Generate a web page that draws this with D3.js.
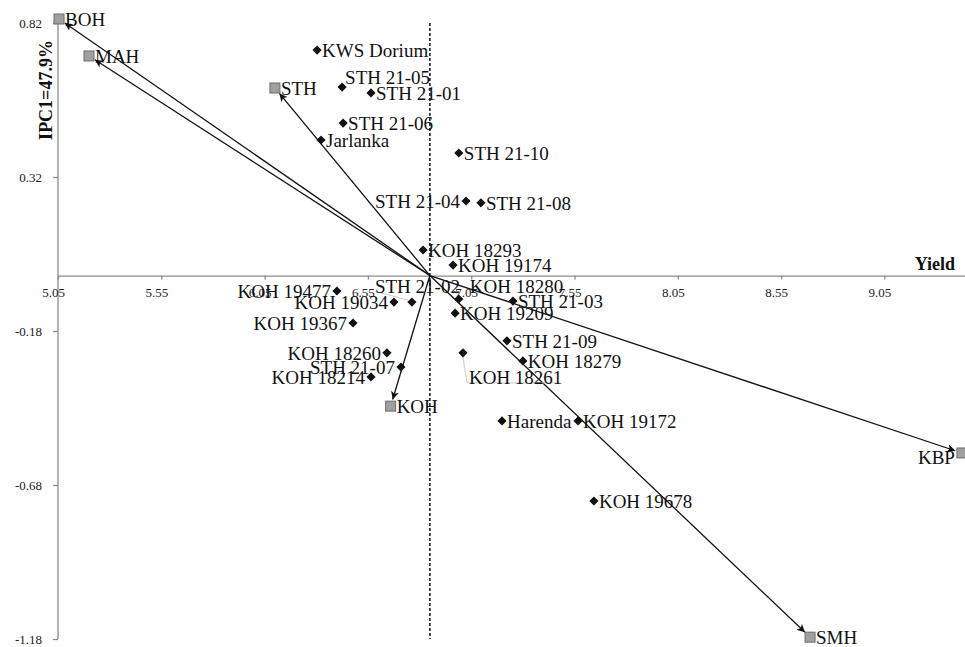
<!DOCTYPE html>
<html lang="en">
<head>
<meta charset="UTF-8">
<title>AMMI biplot - Yield vs IPC1</title>
<script src="https://d3js.org/d3.v7.min.js"></script>
<style>
    body { margin: 0; background: #fff; }
    svg { display: block; font-family: 'Liberation Serif', 'Times New Roman', serif; }
    .axis path, .axis line { stroke: #8c8c8c; stroke-width: 1.3px; }
    .axis text { font-size: 13px; fill: #222; font-family: 'Liberation Serif', serif; }
    .lbl { font-size: 19px; fill: #111; }
    .title { font-size: 18px; font-weight: bold; fill: #111; }
</style>
</head>
<body>
<svg id="chart" width="965" height="647"></svg>
<script>
// genotypes (diamonds)
var genotypes = ["KWS Dorium", "STH 21-05", "STH 21-01", "STH 21-06", "Jarlanka", "STH 21-10",
    "STH 21-04", "STH 21-08", "KOH 18293", "KOH 19174", "STH 21-02", "KOH 18280", "STH 21-03",
    "KOH 19209", "KOH 19477", "KOH 19034", "KOH 19367", "KOH 18260", "STH 21-07", "KOH 18214",
    "KOH 18261", "STH 21-09", "KOH 18279", "Harenda", "KOH 19172", "KOH 19678"];
var genYield = [6.304, 6.425, 6.565, 6.43, 6.323, 6.99, 7.025, 7.097, 6.817, 6.962, 6.763, 6.99, 7.252,
    6.972, 6.40, 6.676, 6.478, 6.642, 6.71, 6.565, 7.01, 7.223, 7.30, 7.199, 7.567, 7.644];
var genIPC1 = [0.732, 0.612, 0.593, 0.495, 0.44, 0.398, 0.242, 0.236, 0.083, 0.034, -0.086, -0.076, -0.083,
    -0.122, -0.05, -0.086, -0.154, -0.251, -0.297, -0.329, -0.251, -0.212, -0.277, -0.472, -0.472, -0.732];

// environments (grey squares, vectors from the origin)
var environments = ["BOH", "MAH", "STH", "KOH", "KBP", "SMH"];
var envYield = [5.055, 5.20, 6.10, 6.66, 9.425, 8.69];
var envIPC1 = [0.833, 0.713, 0.609, -0.424, -0.576, -1.174];

var grandMean = 6.85;
var xTicks = [5.05, 5.55, 6.05, 6.55, 7.05, 7.55, 8.05, 8.55, 9.05];
var yTicks = [0.82, 0.32, -0.18, -0.68, -1.18];

// label placement (pixels)
var place = {
    "STH 21-05": {anchor: "start", dx: 3, dy: -10},
    "STH 21-04": {anchor: "end", dx: -6, dy: 0},
    "KOH 19477": {anchor: "end", dx: -6, dy: 0},
    "KOH 19034": {anchor: "end", dx: -6, dy: 0},
    "KOH 19367": {anchor: "end", dx: -6, dy: 0},
    "KOH 18260": {anchor: "end", dx: -6, dy: 0},
    "STH 21-07": {anchor: "end", dx: -6, dy: 0},
    "KOH 18214": {anchor: "end", dx: -6, dy: 0},
    "STH 21-02": {anchor: "start", dx: -37, dy: -16, leader: [[-34, -10], [-4, -2]]},
    "KOH 18280": {anchor: "start", dx: 11, dy: -13},
    "KOH 18261": {anchor: "start", dx: 6, dy: 24, leader: [[0, 4], [4, 30], [97, 30]]}
};

var svg = d3.select("#chart");
var x = d3.scaleLinear().domain([5.05, 9.44]).range([58, 965]);
var y = d3.scaleLinear().domain([-1.18, 0.82]).range([639, 23]);
var fmt = function(d) { return d.toFixed(2); };

// y axis
var yAxis = svg.append("g").attr("class", "axis")
    .attr("transform", "translate(" + x(5.05) + ",0)")
    .call(d3.axisLeft(y).tickValues(yTicks).tickSize(5).tickSizeOuter(0).tickFormat(fmt));
yAxis.select(".domain").attr("d", "M0," + (y(0.82) - 5) + "V" + y(-1.18));
yAxis.selectAll("text").attr("x", -16).attr("dy", "0.35em");

// x axis crossing at IPC1 = 0
var xAxis = svg.append("g").attr("class", "axis")
    .attr("transform", "translate(0," + y(0) + ")")
    .call(d3.axisBottom(x).tickValues(xTicks).tickSize(4).tickSizeOuter(0).tickFormat(fmt));
xAxis.selectAll("text").attr("y", 12).attr("dx", -5);

// dotted line at grand mean
svg.append("line")
    .attr("x1", x(grandMean)).attr("x2", x(grandMean))
    .attr("y1", y(0.82)).attr("y2", y(-1.18))
    .attr("stroke", "#111").attr("stroke-width", 1.5)
    .attr("stroke-dasharray", "3,2");

// axis titles
svg.append("text").attr("class", "title")
    .attr("transform", "translate(52," + 90 + ") rotate(-90)")
    .attr("text-anchor", "middle").text("IPC1=47.9%");
svg.append("text").attr("class", "title").attr("font-size", "17px")
    .attr("x", 955).attr("y", 270).attr("text-anchor", "end").text("Yield");

// arrowhead
svg.append("defs").append("marker")
    .attr("id", "arrow").attr("viewBox", "0 0 10 10")
    .attr("refX", 10).attr("refY", 5)
    .attr("markerWidth", 8).attr("markerHeight", 8)
    .attr("markerUnits", "userSpaceOnUse")
    .attr("orient", "auto")
    .append("path").attr("d", "M0,0L10,5L0,10L2.5,5Z").attr("fill", "#111");

// environment vectors
var ox = x(grandMean), oy = y(0);
environments.forEach(function(e, i) {
    var ex = x(envYield[i]), ey = y(envIPC1[i]);
    var len = Math.hypot(ex - ox, ey - oy);
    var k = (len - 7) / len;
    svg.append("line")
        .attr("x1", ox).attr("y1", oy)
        .attr("x2", ox + (ex - ox) * k).attr("y2", oy + (ey - oy) * k)
        .attr("stroke", "#111").attr("stroke-width", 1.3)
        .attr("marker-end", "url(#arrow)");
});

// leader lines
genotypes.forEach(function(g, i) {
    var p = place[g];
    if (!p || !p.leader) return;
    var px = x(genYield[i]), py = y(genIPC1[i]);
    svg.append("polyline")
        .attr("points", p.leader.map(function(o) { return (px + o[0]) + "," + (py + o[1]); }).join(" "))
        .attr("fill", "none").attr("stroke", "#c8c8c8").attr("stroke-width", 1);
});

// genotype diamonds
svg.selectAll(".gen").data(genotypes).enter().append("path")
    .attr("class", "gen")
    .attr("d", d3.symbol().type(d3.symbolSquare).size(42))
    .attr("transform", function(d, i) {
        return "translate(" + x(genYield[i]) + "," + y(genIPC1[i]) + ") rotate(45)";
    })
    .attr("fill", "#111");

svg.selectAll(".glbl").data(genotypes).enter().append("text")
    .attr("class", "lbl")
    .attr("x", function(d, i) {
        var p = place[d] || {dx: 5};
        return x(genYield[i]) + p.dx;
    })
    .attr("y", function(d, i) {
        var p = place[d] || {dy: 0};
        return y(genIPC1[i]) + p.dy;
    })
    .attr("dy", "0.35em")
    .attr("text-anchor", function(d) { return (place[d] || {}).anchor || "start"; })
    .text(function(d) { return d; });

// environment squares
svg.selectAll(".env").data(environments).enter().append("rect")
    .attr("class", "env")
    .attr("x", function(d, i) { return x(envYield[i]) - 5; })
    .attr("y", function(d, i) { return y(envIPC1[i]) - 5; })
    .attr("width", 10).attr("height", 10)
    .attr("fill", "#a0a0a0").attr("stroke", "#6e6e6e").attr("stroke-width", 1);

svg.selectAll(".elbl").data(environments).enter().append("text")
    .attr("class", "lbl")
    .attr("x", function(d, i) { return d === "KBP" ? x(envYield[i]) - 7 : x(envYield[i]) + 6; })
    .attr("y", function(d, i) { return y(envIPC1[i]) + (d === "KBP" ? 4 : 0); })
    .attr("dy", "0.35em")
    .attr("text-anchor", function(d) { return d === "KBP" ? "end" : "start"; })
    .text(function(d) { return d; });
</script>
</body>
</html>
